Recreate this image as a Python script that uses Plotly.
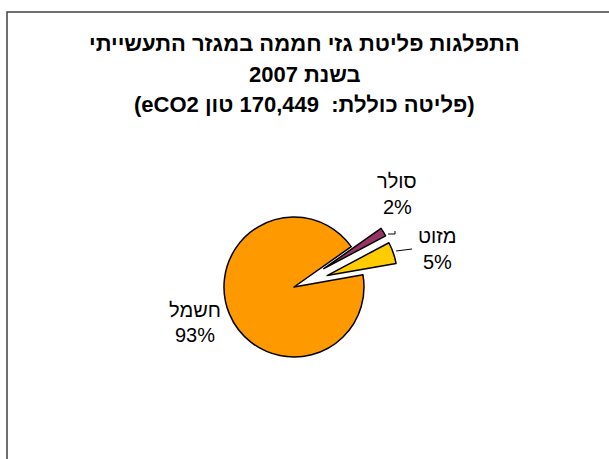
import plotly.graph_objects as go

# Emission shares by fuel, 2007 industrial sector
fuels = ["מזוט", "סולר", "חשמל"]
shares = [5, 2, 93]
colors = ["#FFCC00", "#993366", "#FF9900"]
pulls = [0.5, 0.5, 0.0]

title_lines = [
    "התפלגות פליטת גזי חממה במגזר התעשייתי",
    "בשנת 2007",
    "(פליטה כוללת:  170,449 טון eCO2)",
]

RLE, PDF = "\u202b", "\u202c"
W, H = 609, 459
FONT = "Liberation Sans, Arial, sans-serif"


def px(x):
    return x / W


def py(y):
    return 1 - y / H


# pie box: centre (294, 287) px, half-size 105 px
cx, cy, half = 294, 287, 105

fig = go.Figure(
    go.Pie(
        labels=fuels,
        values=shares,
        sort=False,
        direction="counterclockwise",
        rotation=62,
        pull=pulls,
        marker=dict(colors=colors, line=dict(color="#000000", width=1.5)),
        textinfo="none",
        hoverinfo="label+percent",
        domain=dict(x=[px(cx - half), px(cx + half)], y=[py(cy + half), py(cy - half)]),
    )
)

annotations = []
for text, y in zip(title_lines, [44, 75, 105]):
    annotations.append(
        dict(
            text=f"<b>{RLE}{text}{PDF}</b>",
            x=0.5, y=py(y), xref="paper", yref="paper",
            xanchor="center", yanchor="middle", showarrow=False,
            font=dict(family=FONT, size=22, color="#000000"),
        )
    )

# slice labels: name and percentage, outside the pie
label_pos = {"סולר": (397, 181, 207), "מזוט": (437, 236, 262), "חשמל": (195, 310, 335)}
for name, val in zip(fuels, shares):
    lx, y1, y2 = label_pos[name]
    pct = round(100 * val / sum(shares))
    for t, yy in ((name, y1), (f"{pct}%", y2)):
        annotations.append(
            dict(
                text=t, x=px(lx), y=py(yy), xref="paper", yref="paper",
                xanchor="center", yanchor="middle", showarrow=False,
                font=dict(family=FONT, size=20, color="#000000"),
            )
        )

shapes = [
    # chart area border
    dict(type="rect", xref="paper", yref="paper",
         x0=px(7), x1=px(W + 10), y0=py(H + 10), y1=py(12),
         line=dict(color="#404040", width=1.5), fillcolor="rgba(0,0,0,0)"),
    # leader lines
    dict(type="path", xref="paper", yref="paper",
         path=f"M {px(388)} {py(234)} L {px(395)} {py(234)} L {px(395)} {py(231)}",
         line=dict(color="#000000", width=1)),
    dict(type="line", xref="paper", yref="paper",
         x0=px(396), y0=py(251), x1=px(412), y1=py(249),
         line=dict(color="#000000", width=1)),
]

fig.update_layout(
    width=W, height=H,
    margin=dict(l=0, r=0, t=0, b=0),
    paper_bgcolor="#FFFFFF", plot_bgcolor="#FFFFFF",
    showlegend=False,
    annotations=annotations,
    shapes=shapes,
)

fig.write_html("out.html")
